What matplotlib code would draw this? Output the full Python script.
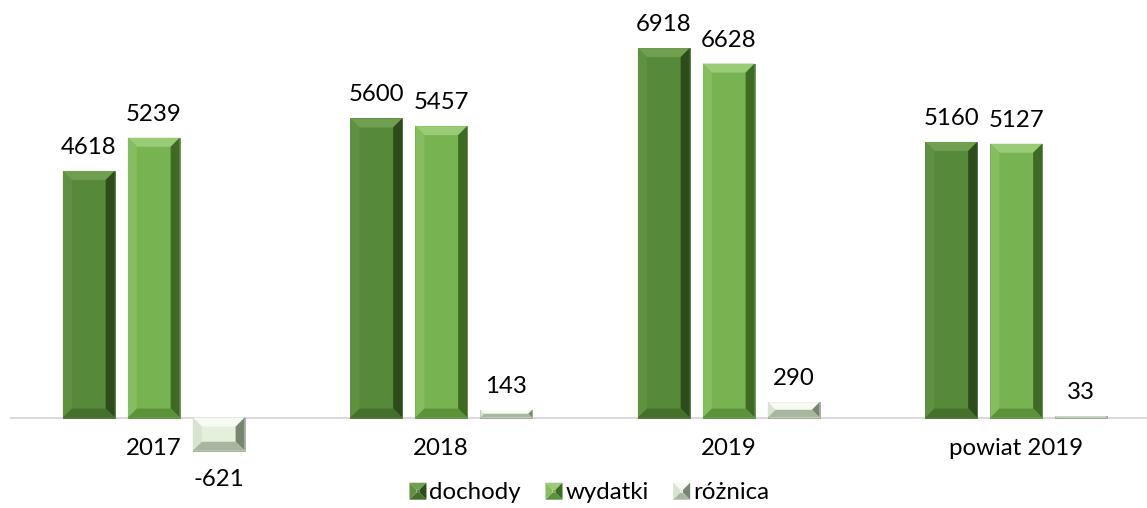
import matplotlib
matplotlib.use("Agg")
import matplotlib.pyplot as plt
from matplotlib.patches import Polygon
from matplotlib.legend_handler import HandlerBase
import numpy as np

categories = ["2017", "2018", "2019", "powiat 2019"]
series_names = ["dochody", "wydatki", "różnica"]
dochody = [4618, 5600, 6918, 5160]
wydatki = [5239, 5457, 6628, 5127]
roznica = [-621, 143, 290, 33]

# face, top, left, right, bottom
palettes = [
    ("#578a38", "#6f9f4f", "#5f9140", "#2e4b1c", "#44702b"),
    ("#78b352", "#9acb77", "#85bd5f", "#3e6a24", "#5b923a"),
    ("#e4efdc", "#f6faf2", "#d8e4d0", "#77866f", "#a8b69f"),
]

plt.rcParams['font.family'] = ['Lato', 'DejaVu Sans']
DPI = 72
W, H = 1147, 508
fig = plt.figure(figsize=(W / DPI, H / DPI), dpi=DPI)

# axes spans pixel x 10..1160 and y 17..471
ymin, ymax = -1000, 7500
ax = fig.add_axes([10 / W, (H - 471) / H, 1150 / W, 454 / H])
ax.set_xlim(-0.5, len(categories) - 0.5)
ax.set_ylim(ymin, ymax)
ax.axis('off')

ax.axhline(0, color="#d9d9d9", lw=2, zorder=1)

x = np.arange(len(categories))
width = 0.18
offset = 0.226
all_series = [dochody, wydatki, roznica]
fs = 24

BEV = 9.0  # pixels


def bevel_bar(rect, pal):
    x0, y0 = rect.get_x(), rect.get_y()
    x1, y1 = x0 + rect.get_width(), y0 + rect.get_height()
    tr = ax.transData
    (px0, py0), (px1, py1) = tr.transform([(x0, min(y0, y1)), (x1, max(y0, y1))])
    b = min(BEV, (py1 - py0) / 2.0, (px1 - px0) / 2.0)
    face, top, left, right, bottom = pal
    ix0, ix1, iy0, iy1 = px0 + b, px1 - b, py0 + b, py1 - b
    polys = [
        ([(px0, py1), (px1, py1), (ix1, iy1), (ix0, iy1)], top),
        ([(px0, py0), (px0, py1), (ix0, iy1), (ix0, iy0)], left),
        ([(px1, py0), (px1, py1), (ix1, iy1), (ix1, iy0)], right),
        ([(px0, py0), (px1, py0), (ix1, iy0), (ix0, iy0)], bottom),
    ]
    inv = tr.inverted()
    for pts, c in polys:
        dpts = inv.transform(pts)
        ax.add_patch(Polygon(dpts, closed=True, facecolor=c, edgecolor='none', zorder=3))


for i, (vals, pal) in enumerate(zip(all_series, palettes)):
    bars = ax.bar(x + (i - 1) * offset, vals, width, color=pal[0], edgecolor=pal[3],
                  linewidth=0.6, zorder=2, label=series_names[i])
    for rect, v in zip(bars, vals):
        bevel_bar(rect, pal)
        cx = rect.get_x() + rect.get_width() / 2
        if v >= 0:
            ax.annotate(str(v), (cx, v), xytext=(0, 13), textcoords='offset points',
                        ha='center', va='bottom', fontsize=fs, color='black')
        else:
            ax.annotate(str(v), (cx, v), xytext=(0, -29), textcoords='offset points',
                        ha='center', va='center', fontsize=fs, color='black')

for xi, cat in zip(x, categories):
    ax.annotate(cat, (xi, 0), xytext=(0, -31), textcoords='offset points',
                ha='center', va='center', fontsize=fs, color='black')


class BevelHandler(HandlerBase):
    def __init__(self, pal):
        super().__init__()
        self.pal = pal

    def create_artists(self, legend, orig_handle, xdescent, ydescent, width, height,
                       fontsize, trans):
        s = 17.0
        x0 = -xdescent + (width - s) / 2
        y0 = -ydescent + (height - s) / 2 - 1
        x1, y1 = x0 + s, y0 + s
        cx, cy = (x0 + x1) / 2, (y0 + y1) / 2
        k = s * 0.08
        face, top, left, right, bottom = self.pal
        arts = []
        for pts, c in [
            ([(x0, y1), (x1, y1), (cx + k, cy + k), (cx - k, cy + k)], top),
            ([(x0, y0), (x0, y1), (cx - k, cy + k), (cx - k, cy - k)], left),
            ([(x1, y0), (x1, y1), (cx + k, cy + k), (cx + k, cy - k)], right),
            ([(x0, y0), (x1, y0), (cx + k, cy - k), (cx - k, cy - k)], bottom),
            ([(cx - k, cy - k), (cx + k, cy - k), (cx + k, cy + k), (cx - k, cy + k)], face),
        ]:
            p = Polygon(pts, closed=True, facecolor=c, edgecolor='none', transform=trans)
            arts.append(p)
        return arts


handles, labels = ax.get_legend_handles_labels()
leg = fig.legend(handles, labels, loc='center', bbox_to_anchor=(589 / W, 1 - 492 / H),
                 ncol=3, frameon=False, fontsize=fs, handlelength=0.75, handleheight=0.75,
                 handletextpad=0.1, columnspacing=1.0, borderpad=0,
                 handler_map={h: BevelHandler(p) for h, p in zip(handles, palettes)})

fig.savefig("out.png", dpi=DPI)
